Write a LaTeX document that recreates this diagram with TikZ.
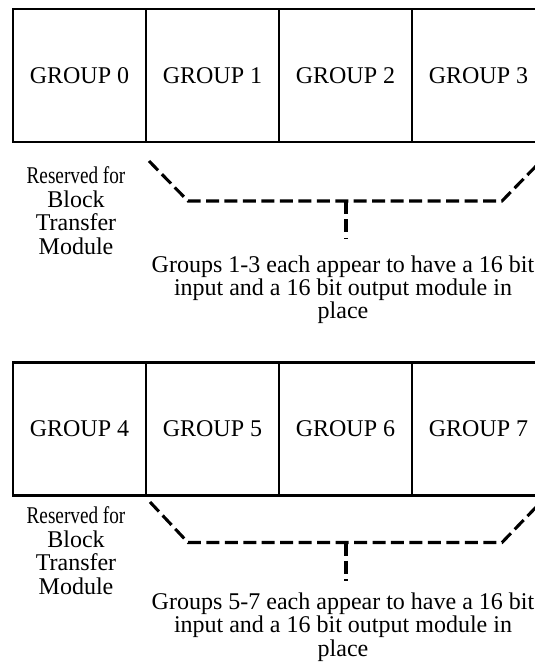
\documentclass[tikz,border=0pt]{standalone}
\usepackage{fontspec}
\setmainfont{Liberation Serif}
\begin{document}
\begin{tikzpicture}[x=0.75pt, y=-0.75pt, font=\fontsize{18pt}{17.6pt}\selectfont, node distance={99.75pt}, grp/.style = {draw, rectangle, line width=2pt, minimum width=99.75pt, minimum height=99.75pt, inner sep=0pt, outer sep=0pt}, note/.style = {align=center, inner sep=0pt, anchor=north}, brace/.style = {line width=2.3pt, dash pattern=on 9.75pt off 4.1pt}]
                \useasboundingbox (0,0) rectangle (535,665);
                \clip (0,0) rectangle (535,665);
                \node[grp] (g0) at (79.5,75.5) {GROUP 0};
                \node[grp] (g1) [right of=g0] {GROUP 1};
                \node[grp] (g2) [right of=g1] {GROUP 2};
                \node[grp] (g3) [right of=g2] {GROUP 3};
                \node[grp] (g4) at (79.5,428.8) {GROUP 4};
                \node[grp] (g5) [right of=g4] {GROUP 5};
                \node[grp] (g6) [right of=g5] {GROUP 6};
                \node[grp] (g7) [right of=g6] {GROUP 7};
                \node[note] (r0) at (76,166.6) {\scalebox{0.8}[1]{Reserved for}\\Block\\Transfer\\Module};
                \node[note] (r1) at (76,506.6) {\scalebox{0.8}[1]{Reserved for}\\Block\\Transfer\\Module};
                \node[note] (n0) at (343,255.1) {Groups 1-3 each appear to have a 16 bit\\input and a 16 bit output module in\\place};
                \node[note] (n1) at (343,592.6) {Groups 5-7 each appear to have a 16 bit\\input and a 16 bit output module in\\place};
                \coordinate (a0) at (149,161);
                \coordinate (b0) at (188,201);
                \coordinate (c0) at (502,201);
                \coordinate (d0) at (541,161);
                \coordinate (m0) at (346,201);
                \coordinate (e0) at (346,239);
                \coordinate (a1) at (150,502);
                \coordinate (b1) at (188,542.5);
                \coordinate (c1) at (502,542.5);
                \coordinate (d1) at (541,502);
                \coordinate (m1) at (346,542.5);
                \coordinate (e1) at (346,581);
                \draw[brace] (a0) -- (b0) -- (c0) -- (d0);
                \draw[brace] (m0) -- (e0);
                \draw[brace] (a1) -- (b1) -- (c1) -- (d1);
                \draw[brace] (m1) -- (e1);
            \end{tikzpicture}
\end{document}
